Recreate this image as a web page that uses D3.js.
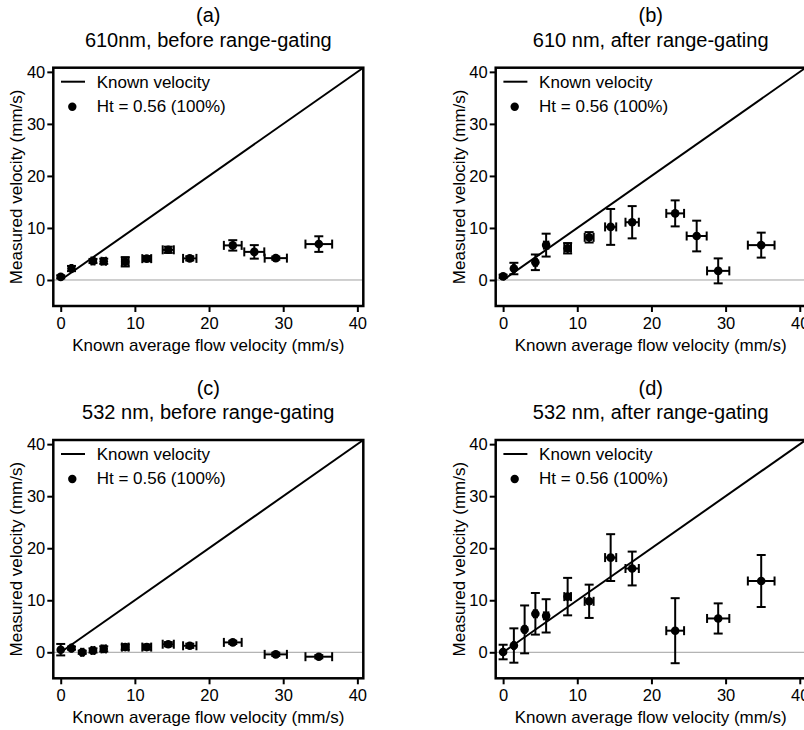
<!DOCTYPE html>
<html><head><meta charset="utf-8">
<script src="https://cdn.jsdelivr.net/npm/d3@7"></script>
<style>
body{margin:0;background:#fff}
svg{display:block}
text{font-family:"Liberation Sans",Arial,sans-serif;fill:#000}
</style>
</head><body>
<svg id="chart" width="804" height="730"></svg>
<script>
// ---- data ----
const knownX    = [0, 1.45, 2.9, 4.35, 5.8, 8.7, 11.6, 14.5, 17.4, 23.2, 26.1, 29.0, 34.8];
const knownXErr = [0, 0.1, 0.15, 0.2, 0.3, 0.45, 0.6, 0.75, 0.9, 1.2, 1.35, 1.5, 1.8];

const measA = [0.6, 2.2, null, 3.65, 3.6, 3.5, 4.1, 5.8, 4.15, 6.65, 5.4, 4.2, 6.9];
const errA  = [0.3, 0.5, null, 0.4, 0.5, 0.9, 0.5, 0.6, 0.4, 1.0, 1.3, 0.3, 1.5];

const measB = [0.7, 2.2, null, 3.4, 6.7, 6.1, 8.2, 10.2, 11.1, 12.8, 8.45, 1.75, 6.7];
const errB  = [0.3, 1.1, null, 1.5, 2.2, 1.0, 1.0, 3.45, 3.1, 2.5, 2.95, 2.4, 2.4];

const measC = [0.5, 0.8, 0.0, 0.35, 0.65, 1.0, 1.0, 1.55, 1.25, 1.9, null, -0.4, -0.85];
const errC  = [1.1, 0.3, 0.3, 0.4, 0.5, 0.5, 0.5, 0.4, 0.4, 0.3, null, 0.3, 0.3];

const measD = [0.05, 1.3, 4.4, 7.4, 7.0, 10.7, 9.8, 18.2, 16.1, 4.15, null, 6.5, 13.7];
const errD  = [1.4, 3.3, 4.6, 4.0, 3.2, 3.6, 3.2, 4.5, 3.25, 6.25, null, 2.9, 5.0];

const panelLetters = ["(a)", "(b)", "(c)", "(d)"];
const panelTitles  = ["610nm, before range-gating", "610 nm, after range-gating",
                      "532 nm, before range-gating", "532 nm, after range-gating"];
const xTicks = [0, 10, 20, 30, 40];
const yTicks = [0, 10, 20, 30, 40];
const legendLabels = ["Known velocity", "Ht = 0.56 (100%)"];
const xLabel = "Known average flow velocity (mm/s)";
const yLabel = "Measured velocity (mm/s)";
const xDomain = [-1, 40.8];
const yDomain = [-5, 40.8];
const identityLine = [0, 40.8];

// ---- layout ----
const svg = d3.select("#chart");
const W = 310, H = 238.3;
const panels = [
  {left: 53.3,  top: 67.7, y: measA, e: errA},
  {left: 495.7, top: 67.7, y: measB, e: errB},
  {left: 53.3,  top: 440,  y: measC, e: errC},
  {left: 495.7, top: 440,  y: measD, e: errD}
];

panels.forEach((p, i) => {
  const x = d3.scaleLinear().domain(xDomain).range([0, W]);
  const y = d3.scaleLinear().domain(yDomain).range([H, 0]);
  const g = svg.append("g").attr("transform", `translate(${p.left},${p.top})`);

  // titles
  g.append("text").attr("x", W/2).attr("y", -45.5).attr("text-anchor", "middle")
    .style("font-size", "20px").text(panelLetters[i]);
  g.append("text").attr("x", W/2).attr("y", -21).attr("text-anchor", "middle")
    .style("font-size", "20px").text(panelTitles[i]);

  // zero line
  g.append("line").attr("x1", 0).attr("x2", W).attr("y1", y(0)).attr("y2", y(0))
    .attr("stroke", "#a0a0a0").attr("stroke-width", 1);

  // identity line
  g.append("line")
    .attr("x1", x(identityLine[0])).attr("y1", y(identityLine[0]))
    .attr("x2", x(identityLine[1])).attr("y2", y(identityLine[1]))
    .attr("stroke", "#000").attr("stroke-width", 2);

  // points
  const data = knownX.map((kx, j) => ({x: kx, xe: knownXErr[j], y: p.y[j], ye: p.e[j]}))
                     .filter(d => d.y !== null);
  const cap = 4.5;
  const pts = g.append("g");
  data.forEach(d => {
    const cx = x(d.x), cy = y(d.y);
    const gg = pts.append("g").attr("stroke", "#000").attr("stroke-width", 2);
    // vertical error
    const y1 = y(d.y + d.ye), y2 = y(d.y - d.ye);
    gg.append("line").attr("x1", cx).attr("x2", cx).attr("y1", y1).attr("y2", y2);
    gg.append("line").attr("x1", cx - cap).attr("x2", cx + cap).attr("y1", y1).attr("y2", y1);
    gg.append("line").attr("x1", cx - cap).attr("x2", cx + cap).attr("y1", y2).attr("y2", y2);
    // horizontal error
    if (d.xe > 0) {
      const x1 = x(d.x - d.xe), x2 = x(d.x + d.xe);
      gg.append("line").attr("x1", x1).attr("x2", x2).attr("y1", cy).attr("y2", cy);
      gg.append("line").attr("x1", x1).attr("x2", x1).attr("y1", cy - cap).attr("y2", cy + cap);
      gg.append("line").attr("x1", x2).attr("x2", x2).attr("y1", cy - cap).attr("y2", cy + cap);
    }
    pts.append("circle").attr("cx", cx).attr("cy", cy).attr("r", 4.3).attr("fill", "#000");
  });

  // axes
  const xa = g.append("g").attr("transform", `translate(0,${H})`)
    .call(d3.axisBottom(x).tickValues(xTicks).tickSize(6).tickPadding(5).tickSizeOuter(0));
  const ya = g.append("g")
    .call(d3.axisLeft(y).tickValues(yTicks).tickSize(6).tickPadding(2).tickSizeOuter(0));
  [xa, ya].forEach(a => {
    a.select(".domain").remove();
    a.selectAll(".tick line").attr("stroke", "#000").attr("stroke-width", 2);
    a.selectAll(".tick text").style("font-size", "16.5px").attr("fill", "#000")
      .style("font-family", '"Liberation Sans",Arial,sans-serif');
  });

  // frame
  g.append("rect").attr("x", 0).attr("y", 0).attr("width", W).attr("height", H)
    .attr("fill", "none").attr("stroke", "#000").attr("stroke-width", 2.5);

  // axis labels
  g.append("text").attr("x", W/2).attr("y", H + 45).attr("text-anchor", "middle")
    .style("font-size", "17px").text(xLabel);
  g.append("text").attr("transform", `translate(-31,${H/2}) rotate(-90)`)
    .attr("text-anchor", "middle").style("font-size", "17px").text(yLabel);

  // legend
  const lg = g.append("g");
  lg.append("line").attr("x1", 7.7).attr("x2", 31.7).attr("y1", 14).attr("y2", 14)
    .attr("stroke", "#000").attr("stroke-width", 2);
  lg.append("text").attr("x", 43.4).attr("y", 20.3).style("font-size", "17px").text(legendLabels[0]);
  lg.append("circle").attr("cx", 19).attr("cy", 39).attr("r", 4.2).attr("fill", "#000");
  lg.append("text").attr("x", 43.4).attr("y", 44.3).style("font-size", "17px").text(legendLabels[1]);
});
</script>
</body></html>
